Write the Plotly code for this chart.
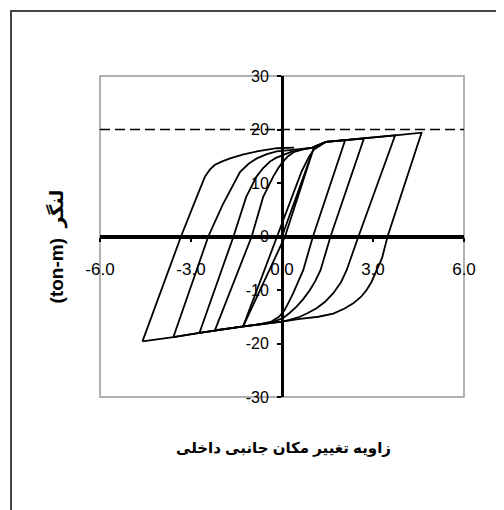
import plotly.graph_objects as go

# hysteresis cycles (rotation in %, moment in ton-m)
cyc1_x = [0.0, 1.05, 0.1, -1.28]
cyc1_y = [0.0, 16.6, 0.0, -16.8]

cyc2_x = [-1.28, -0.17, 0.3, 0.65, 0.9, 1.05, 1.2, 1.45, 2.08,
          1.02, 0.7, 0.52, 0.37, 0.22, 0.08, -0.1, -0.35, -0.7, -1.28, -2.21]
cyc2_y = [-16.8, 0.0, 7.0, 12.2, 15.0, 16.2, 16.8, 17.7, 18.0,
          0.0, -6.3, -8.7, -10.6, -12.3, -13.8, -15.0, -15.9, -16.4, -16.8, -17.5]

cyc3_x = [-2.21, -1.0, -0.62, -0.45, -0.29, -0.12, 0.02, 0.2, 0.4, 0.7, 1.0, 1.45, 2.08, 2.7,
          1.6, 1.27, 1.1, 0.92, 0.7, 0.48, 0.25, 0.05, -0.3, -1.28, -2.21, -2.72]
cyc3_y = [-17.5, 0.0, 7.4, 9.5, 11.2, 12.8, 13.9, 15.0, 15.8, 16.3, 16.6, 17.7, 18.0, 18.3,
          0.0, -6.3, -8.3, -10.0, -11.7, -13.1, -14.3, -15.2, -16.0, -16.8, -17.5, -18.0]

cyc4_x = [-2.72, -1.6, -1.18, -1.0, -0.84, -0.62, -0.4, -0.2, 0.0, 0.3, 0.6, 1.0, 1.45, 2.08, 2.7,
          3.2, 3.73,
          2.52, 2.3, 2.13, 1.95, 1.69, 1.42, 1.14, 0.85, 0.59, 0.25, 0.0, -1.28, -2.21, -2.72, -3.58]
cyc4_y = [-18.0, 0.0, 7.4, 9.5, 11.2, 12.8, 14.0, 14.7, 15.2, 15.8, 16.2, 16.6, 17.7, 18.0, 18.3,
          18.6, 18.9,
          0.0, -3.5, -6.3, -8.5, -10.6, -12.2, -13.4, -14.3, -15.0, -15.6, -15.9, -16.8, -17.5, -18.0, -18.8]

cyc5_x = [-3.58, -2.43, -1.95, -1.82, -1.6, -1.38, -1.1, -0.83, -0.5, -0.17, 0.5, 1.0, 1.45, 2.08,
          2.7, 3.73, 4.6,
          3.48, 3.3, 3.12, 2.95, 2.79, 2.6, 2.35, 2.05, 1.69, 1.2, 0.59, 0.0,
          -1.28, -2.21, -2.72, -3.58, -4.6]
cyc5_y = [-18.8, 0.0, 6.0, 7.4, 10.0, 12.1, 13.6, 14.6, 15.4, 15.9, 16.3, 16.6, 17.7, 18.0,
          18.3, 18.9, 19.4,
          0.0, -4.0, -6.3, -8.5, -10.0, -11.3, -12.5, -13.5, -14.4, -15.0, -15.4, -15.9,
          -16.8, -17.5, -18.0, -18.8, -19.6]

cyc6_x = [-4.6, -3.33, -2.81, -2.67, -2.54, -2.38, -2.21, -1.95, -1.71, -1.3, -0.83, -0.17, 0.4]
cyc6_y = [-19.6, 0.0, 7.4, 9.5, 11.2, 12.5, 13.4, 14.1, 14.6, 15.3, 15.9, 16.5, 16.6]

limit_x = [-6.0, 6.0]
limit_y = [20.0, 20.0]

x_ticks = [-6, -3, 0, 3, 6]
x_labels = ['-6.0', '-3.0', '0.0', '3.0', '6.0']
y_ticks = [-30, -20, -10, 0, 10, 20, 30]
y_labels = ['-30', '-20', '-10', '0', '10', '20', '30']

x_title = 'زاویه تغییر مکان جانبی داخلی'
y_title = '(ton-m)  لنگر'

FONT = 'Arial, Liberation Sans, DejaVu Sans, sans-serif'

fig = go.Figure()

fig.add_trace(go.Scatter(x=limit_x, y=limit_y, mode='lines',
                         line=dict(color='black', width=1.5, dash='10px,5px'),
                         hoverinfo='skip'))

for cx, cy in [(cyc1_x, cyc1_y), (cyc2_x, cyc2_y), (cyc3_x, cyc3_y),
               (cyc4_x, cyc4_y), (cyc5_x, cyc5_y), (cyc6_x, cyc6_y)]:
    fig.add_trace(go.Scatter(x=cx, y=cy, mode='lines',
                             line=dict(color='black', width=1.8)))

# page body has an 8px margin, so the figure is shrunk/shifted by 8px
fig.update_layout(
    width=496, height=502,
    margin=dict(l=92, r=40, t=68, b=113),
    paper_bgcolor='white', plot_bgcolor='white',
    showlegend=False,
    font=dict(family=FONT, color='black'),
    xaxis=dict(range=[-6, 6], anchor='free', position=0.5,
               showline=True, linecolor='black', linewidth=3.5,
               ticks='outside', ticklen=4, tickwidth=2, tickcolor='black',
               tickvals=x_ticks, ticktext=x_labels, ticklabelstandoff=12,
               tickfont=dict(size=17, family=FONT),
               showgrid=False, zeroline=False),
    yaxis=dict(range=[-30, 30], anchor='free', position=0.5,
               showline=True, linecolor='black', linewidth=3,
               ticks='outside', ticklen=4, tickwidth=2, tickcolor='black',
               tickvals=y_ticks, ticktext=y_labels, ticklabelstandoff=5,
               tickfont=dict(size=16, family=FONT),
               showgrid=False, zeroline=False),
    shapes=[
        dict(type='rect', xref='x domain', yref='y domain', x0=0, x1=1, y0=0, y1=1,
             line=dict(color='#999999', width=1.5), layer='below'),
        dict(type='rect', xref='paper', yref='paper', x0=-0.2445, x1=1.3, y0=-0.45, y1=1.2025,
             line=dict(color='#444444', width=2), layer='below'),
    ],
    annotations=[
        dict(text=x_title, xref='paper', yref='paper', x=0.503, y=-0.159,
             xanchor='center', yanchor='middle', showarrow=False,
             font=dict(size=15, family=FONT, weight='bold')),
        dict(text=y_title, xref='paper', yref='paper', x=-0.12, y=0.47,
             xanchor='center', yanchor='middle', textangle=-90, showarrow=False,
             font=dict(size=19, family=FONT, weight='bold')),
    ],
)

fig.write_html('out.html')
